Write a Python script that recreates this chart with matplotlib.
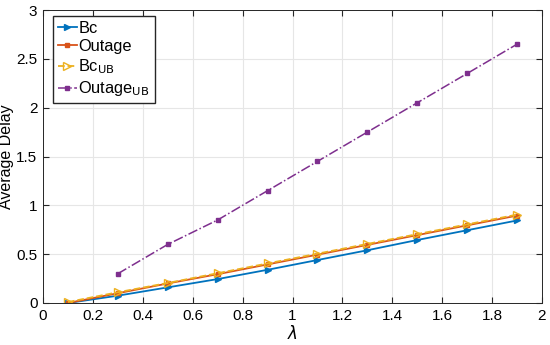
import matplotlib
matplotlib.use('Agg')
import matplotlib.pyplot as plt

lam = [0.1, 0.3, 0.5, 0.7, 0.9, 1.1, 1.3, 1.5, 1.7, 1.9]
bc = [0.0, 0.075, 0.16, 0.245, 0.34, 0.44, 0.54, 0.645, 0.745, 0.845]
outage = [0.0, 0.10, 0.20, 0.295, 0.395, 0.495, 0.595, 0.695, 0.795, 0.895]
bc_ub = [0.01, 0.11, 0.205, 0.305, 0.405, 0.505, 0.605, 0.705, 0.805, 0.905]
lam_oub = [0.3, 0.5, 0.7, 0.9, 1.1, 1.3, 1.5, 1.7, 1.9]
outage_ub = [0.3, 0.6, 0.85, 1.15, 1.45, 1.75, 2.05, 2.35, 2.65]

plt.rcParams['font.family'] = ['Liberation Sans', 'DejaVu Sans']
fig = plt.figure(figsize=(5.5, 3.45), dpi=100)
ax = fig.add_axes([43 / 550, 1 - 303 / 345, 499 / 550, 293 / 345])

ax.plot(lam, bc, color='#0072BD', marker='>', markersize=5, lw=1.3, label='Bc')
ax.plot(lam, outage, color='#D95319', marker='s', markersize=3.5, lw=1.3, label='Outage')
ax.plot(lam, bc_ub, color='#EDB120', marker='>', markersize=6, mfc='none', lw=1.3,
        ls='--', label=r'Bc$_{\mathrm{UB}}$')
ax.plot(lam_oub, outage_ub, color='#7E2F8E', marker='s', markersize=3.5, lw=1.1,
        ls='-.', label=r'Outage$_{\mathrm{UB}}$')

ax.set_xlim(0, 2)
ax.set_ylim(0, 3)
ax.set_xticks([0, 0.2, 0.4, 0.6, 0.8, 1, 1.2, 1.4, 1.6, 1.8, 2])
ax.set_xticklabels(['0', '0.2', '0.4', '0.6', '0.8', '1', '1.2', '1.4', '1.6', '1.8', '2'])
ax.set_yticks([0, 0.5, 1, 1.5, 2, 2.5, 3])
ax.set_yticklabels(['0', '0.5', '1', '1.5', '2', '2.5', '3'])
ax.grid(True, color='#e6e6e6', lw=0.8)
ax.set_axisbelow(True)
ax.tick_params(direction='in', length=4, labelsize=11, top=True, right=True,
               color='#262626', pad=4)
for s in ax.spines.values():
    s.set_color('#262626')
    s.set_linewidth(0.7)
ax.set_xlabel(r'$\lambda$', fontsize=12, labelpad=1)
ax.set_ylabel('Average Delay', fontsize=11.5, labelpad=2)

ax.legend(loc='upper left', bbox_to_anchor=(10 / 499, 1 - 6 / 293), borderaxespad=0,
          fontsize=11.8, fancybox=False, edgecolor='#262626',
          handlelength=1.15, handletextpad=0.1, borderpad=0.3, labelspacing=0.2,
          framealpha=1)

fig.savefig('out.png', dpi=100)
